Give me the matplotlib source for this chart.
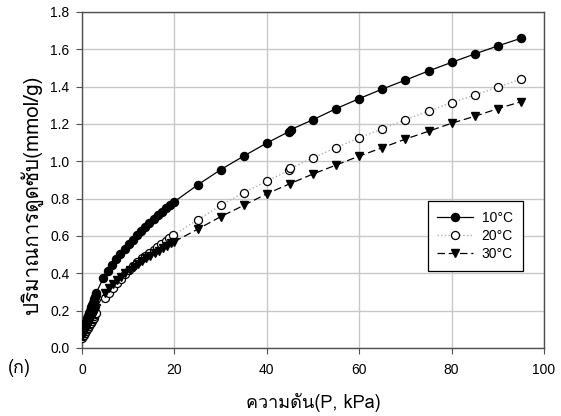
import matplotlib
matplotlib.use("Agg")
import matplotlib.pyplot as plt
from matplotlib import font_manager
from matplotlib.ft2font import FT2Font

# pressure (kPa) and uptake (mmol/g)
p10 = [0.1, 0.25, 0.4, 0.55, 0.7, 0.85, 1.0, 1.15, 1.3, 1.45, 1.6, 1.75, 1.9, 2.05, 2.2, 2.35, 2.5, 2.65, 2.8, 2.95, 3.1,
       4.6, 5.6, 6.5, 7.4, 8.3, 9.2, 10.1, 11.0, 11.9, 12.8, 13.7, 14.6, 15.5, 16.4, 17.3, 18.2, 19.1, 20.0,
       25, 30, 35, 40, 44.7, 45.2, 50, 55, 60, 65, 70, 75, 80, 85, 90, 95]
q10 = [0.075, 0.092, 0.105, 0.117, 0.128, 0.139, 0.150, 0.160, 0.170, 0.180, 0.190, 0.200, 0.210, 0.220, 0.230, 0.240, 0.250, 0.260, 0.272, 0.284, 0.296,
       0.375, 0.414, 0.446, 0.476, 0.504, 0.531, 0.557, 0.581, 0.604, 0.627, 0.649, 0.670, 0.690, 0.710, 0.729, 0.748, 0.766, 0.784,
       0.873, 0.955, 1.028, 1.098, 1.158, 1.170, 1.223, 1.282, 1.336, 1.387, 1.435, 1.484, 1.530, 1.575, 1.618, 1.659]

p20 = [0.1, 0.3, 0.5, 0.7, 0.9, 1.1, 1.3, 1.5, 1.7, 1.9, 2.1, 2.3, 2.5, 2.7, 2.9, 3.1,
       4.9, 5.8, 6.7, 7.6, 8.4, 9.3, 10.2, 11.1, 12.0, 12.9, 13.7, 14.6, 15.5, 16.3, 17.2, 18.1, 18.9, 19.8,
       25, 30, 35, 40, 44.8, 45.1, 50, 55, 60, 65, 70, 75, 80, 85, 90, 95]
q20 = [0.052, 0.062, 0.072, 0.082, 0.091, 0.100, 0.109, 0.118, 0.127, 0.136, 0.145, 0.154, 0.163, 0.172, 0.181, 0.190,
       0.266, 0.295, 0.323, 0.349, 0.371, 0.395, 0.418, 0.440, 0.462, 0.480, 0.494, 0.510, 0.526, 0.541, 0.556, 0.571, 0.588, 0.605,
       0.686, 0.764, 0.832, 0.894, 0.952, 0.962, 1.019, 1.073, 1.126, 1.174, 1.223, 1.269, 1.314, 1.355, 1.398, 1.439]

p30 = [0.1, 0.4, 0.7, 1.0, 1.3, 1.6, 1.9, 2.2, 2.5, 2.8, 3.1,
       4.9, 5.8, 6.7, 7.6, 8.5, 9.4, 10.3, 11.2, 12.1, 13.0, 13.9, 14.8, 15.7, 16.6, 17.5, 18.4, 19.3, 20.0,
       25, 30, 35, 40, 45, 50, 55, 60, 65, 70, 75, 80, 85, 90, 95]
q30 = [0.065, 0.080, 0.095, 0.110, 0.125, 0.140, 0.155, 0.170, 0.185, 0.200, 0.215,
       0.295, 0.319, 0.342, 0.362, 0.382, 0.400, 0.418, 0.434, 0.450, 0.466, 0.481, 0.495, 0.509, 0.522, 0.535, 0.548, 0.560, 0.570,
       0.636, 0.703, 0.764, 0.826, 0.880, 0.932, 0.980, 1.028, 1.073, 1.119, 1.161, 1.204, 1.241, 1.282, 1.319]

labels = ["10°C", "20°C", "30°C"]


def thaiFont():
    # first installed font that actually has Thai glyphs
    for f in font_manager.fontManager.ttflist:
        try:
            if ord("ก") in FT2Font(f.fname).get_charmap():
                return f.name
        except Exception:
            pass
    return "DejaVu Sans"


thai = thaiFont()
plt.rcParams['font.family'] = ['Liberation Sans', thai, 'DejaVu Sans']

fig = plt.figure(figsize=(5.61, 4.16), dpi=100)
ax = fig.add_axes([0.1462, 0.1635, 0.8235, 0.8077])

ax.plot(p10, q10, color='black', lw=0.9, ls='-', marker='o', ms=5.8,
        mfc='black', mec='black', label=labels[0], zorder=3)
ax.plot(p20, q20, color='#b0b0b0', lw=1.0, ls=':', marker='o', ms=5.8,
        mfc='white', mec='black', mew=0.9, label=labels[1], zorder=3)
ax.plot(p30, q30, color='black', lw=0.9, ls=(0, (6, 3)), marker='v', ms=6.3,
        mfc='black', mec='black', label=labels[2], zorder=3)

ax.set_xlim(0, 100)
ax.set_ylim(0, 1.8)
ax.set_xticks([0, 20, 40, 60, 80, 100])
ax.set_yticks([0.0, 0.2, 0.4, 0.6, 0.8, 1.0, 1.2, 1.4, 1.6, 1.8])
ax.set_yticklabels([f"{v:.1f}" for v in ax.get_yticks()])
ax.grid(True, color='#c8c8c8', lw=1.0)
ax.set_axisbelow(True)
for s in ax.spines.values():
    s.set_color('#505050')
    s.set_linewidth(1.0)
ax.tick_params(direction='out', length=4, color='#505050', labelsize=10, pad=5)
ax.tick_params(axis='x', pad=7)

ax.set_xlabel("ความดัน(P, kPa)", family=[thai, 'DejaVu Sans'], fontsize=13)
ax.xaxis.set_label_coords(0.5, -0.133)
ax.set_ylabel("ปริมาณการดูดซับ(mmol/g)", family=[thai, 'DejaVu Sans'], fontsize=14.8)
ax.yaxis.set_label_coords(-0.085, 0.455)
fig.text(0.014, 0.115, "(ก)", family=[thai, 'DejaVu Sans'], fontsize=13, va='center')

leg = ax.legend(loc='upper left', bbox_to_anchor=(0.748, 0.438), fancybox=False,
                edgecolor='black', framealpha=1, fontsize=10, handlelength=2.6,
                handletextpad=0.6, borderaxespad=0, borderpad=0.7, labelspacing=0.3)
leg.get_frame().set_linewidth(0.9)

plt.savefig('out.png', dpi=100)
plt.close()
